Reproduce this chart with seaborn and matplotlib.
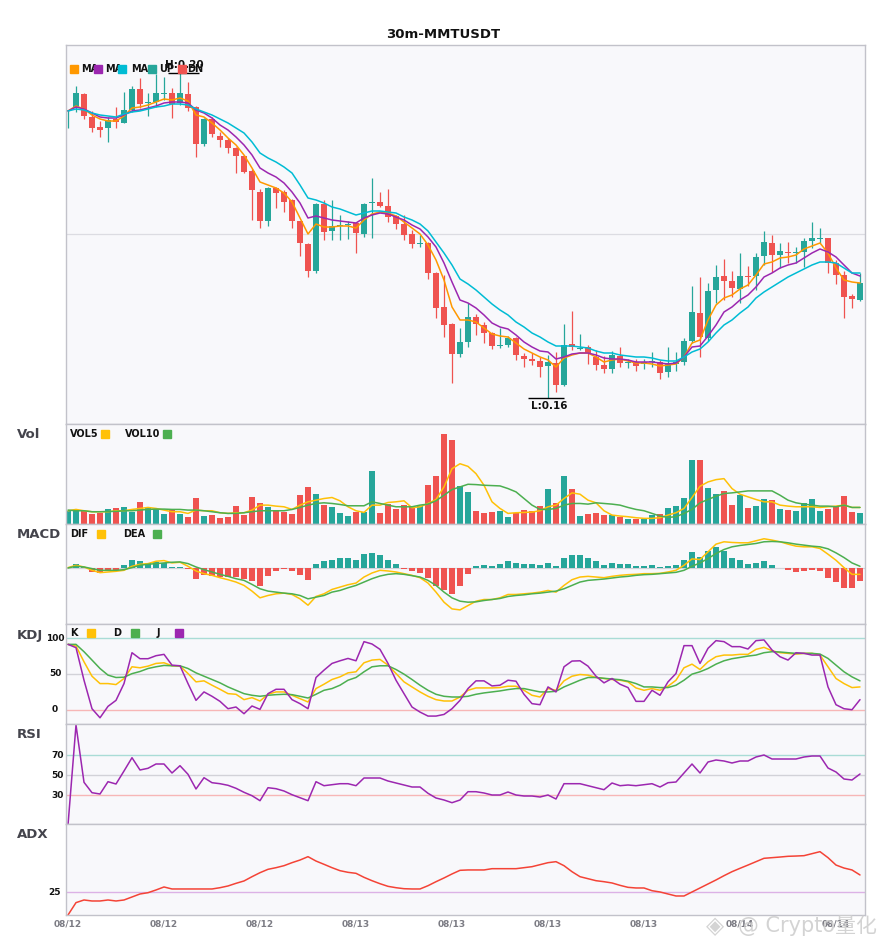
import numpy as np
import matplotlib
matplotlib.use("Agg")
import matplotlib.pyplot as plt
import matplotlib.transforms as mtransforms
from matplotlib.patches import Rectangle
import seaborn as sns

# 30m MMTUSDT candles, prices in units of 0.0001
PRICE_UNIT = 1e-4
opens = np.array([
    1914, 1918, 1931, 1908, 1898, 1897, 1906, 1902, 1915, 1936,
    1922, 1923, 1931, 1932, 1922, 1931, 1918, 1881, 1906, 1889,
    1885, 1877, 1869, 1854, 1833, 1804, 1837, 1833, 1825, 1804,
    1781, 1754, 1821, 1794, 1799, 1800, 1802, 1791, 1822, 1823,
    1819, 1809, 1801, 1791, 1781, 1782, 1752, 1718, 1701, 1671,
    1683, 1708, 1700, 1692, 1679, 1680, 1687, 1669, 1666, 1664,
    1659, 1662, 1640, 1681, 1676, 1678, 1668, 1660, 1656, 1669,
    1662, 1663, 1661, 1663, 1663, 1653, 1661, 1663, 1684, 1712,
    1687, 1735, 1749, 1744, 1736, 1749, 1749, 1769, 1782, 1770,
    1773, 1772, 1773, 1784, 1786, 1787, 1762, 1750, 1729, 1725])
closes = np.array([
    1915, 1932, 1909, 1897, 1895, 1905, 1903, 1915, 1936, 1921,
    1923, 1932, 1932, 1921, 1932, 1917, 1881, 1906, 1891, 1885,
    1877, 1869, 1853, 1835, 1804, 1837, 1832, 1823, 1804, 1782,
    1754, 1821, 1793, 1799, 1800, 1801, 1792, 1821, 1823, 1819,
    1808, 1801, 1790, 1781, 1782, 1752, 1717, 1700, 1671, 1683,
    1708, 1701, 1692, 1679, 1680, 1687, 1670, 1666, 1664, 1658,
    1663, 1640, 1680, 1678, 1677, 1672, 1660, 1656, 1670, 1662,
    1663, 1659, 1663, 1664, 1652, 1662, 1663, 1684, 1713, 1688,
    1734, 1748, 1744, 1737, 1749, 1748, 1768, 1783, 1770, 1774,
    1772, 1773, 1784, 1787, 1787, 1762, 1750, 1728, 1726, 1742])
highs = np.array([
    1915, 1939, 1932, 1914, 1904, 1908, 1918, 1933, 1939, 1947,
    1932, 1951, 1948, 1937, 1952, 1943, 1919, 1907, 1908, 1893,
    1887, 1878, 1870, 1856, 1836, 1838, 1838, 1835, 1826, 1804,
    1782, 1822, 1825, 1825, 1810, 1804, 1803, 1822, 1847, 1833,
    1836, 1810, 1810, 1795, 1790, 1783, 1753, 1750, 1702, 1697,
    1722, 1711, 1703, 1693, 1697, 1689, 1688, 1672, 1672, 1668,
    1670, 1673, 1701, 1714, 1691, 1680, 1675, 1669, 1674, 1678,
    1666, 1666, 1666, 1673, 1665, 1678, 1673, 1687, 1739, 1748,
    1742, 1760, 1766, 1754, 1772, 1759, 1772, 1794, 1790, 1782,
    1783, 1778, 1787, 1803, 1797, 1787, 1765, 1754, 1731, 1752])
lows = np.array([
    1897, 1913, 1906, 1893, 1888, 1883, 1897, 1902, 1913, 1917,
    1909, 1918, 1925, 1907, 1920, 1914, 1868, 1879, 1888, 1878,
    1872, 1852, 1852, 1805, 1797, 1799, 1817, 1813, 1797, 1769,
    1748, 1752, 1785, 1785, 1785, 1786, 1772, 1788, 1787, 1818,
    1803, 1796, 1785, 1777, 1778, 1746, 1707, 1688, 1642, 1668,
    1678, 1690, 1682, 1676, 1677, 1678, 1665, 1658, 1660, 1648,
    1627, 1633, 1639, 1675, 1675, 1661, 1655, 1652, 1652, 1658,
    1657, 1654, 1656, 1658, 1646, 1648, 1654, 1660, 1682, 1668,
    1684, 1722, 1725, 1728, 1722, 1739, 1735, 1760, 1753, 1757,
    1762, 1762, 1758, 1777, 1782, 1752, 1741, 1707, 1717, 1724])

ma5 = np.array([
    1914, 1919, 1916, 1910, 1906, 1904, 1904, 1909, 1917, 1918,
    1920, 1923, 1926, 1925, 1927, 1924, 1910, 1908, 1902, 1895,
    1887, 1880, 1870, 1857, 1843, 1840, 1837, 1832, 1823, 1807,
    1791, 1801, 1798, 1798, 1799, 1799, 1797, 1805, 1811, 1813,
    1812, 1809, 1803, 1797, 1791, 1780, 1765, 1745, 1718, 1705,
    1705, 1703, 1697, 1691, 1689, 1688, 1682, 1676, 1672, 1668,
    1665, 1658, 1667, 1670, 1672, 1672, 1668, 1663, 1665, 1666,
    1664, 1662, 1662, 1661, 1659, 1660, 1661, 1668, 1682, 1685,
    1705, 1720, 1727, 1730, 1736, 1740, 1750, 1761, 1763, 1767,
    1768, 1770, 1776, 1779, 1782, 1772, 1757, 1745, 1743, 1742])
ma10 = np.array([
    1914, 1918, 1916, 1912, 1908, 1907, 1907, 1910, 1914, 1915,
    1917, 1919, 1922, 1923, 1923, 1922, 1915, 1912, 1907, 1900,
    1895, 1888, 1880, 1870, 1857, 1852, 1848, 1842, 1833, 1822,
    1807, 1809, 1807, 1805, 1804, 1803, 1802, 1807, 1810, 1812,
    1811, 1808, 1805, 1800, 1796, 1788, 1778, 1762, 1743, 1725,
    1722, 1717, 1710, 1702, 1698, 1696, 1690, 1683, 1678, 1674,
    1673, 1666, 1668, 1671, 1672, 1672, 1670, 1667, 1666, 1666,
    1665, 1663, 1663, 1663, 1662, 1661, 1662, 1668, 1678, 1679,
    1689, 1700, 1713, 1718, 1725, 1730, 1738, 1748, 1752, 1757,
    1760, 1762, 1767, 1772, 1776, 1773, 1768, 1760, 1752, 1749])
ma20 = np.array([
    1914, 1916, 1915, 1912, 1910, 1909, 1908, 1911, 1913, 1914,
    1916, 1918, 1919, 1921, 1921, 1920, 1916, 1913, 1910, 1906,
    1902, 1897, 1892, 1883, 1872, 1867, 1863, 1858, 1852, 1840,
    1827, 1825, 1822, 1818, 1816, 1813, 1810, 1812, 1814, 1814,
    1813, 1812, 1808, 1805, 1801, 1794, 1783, 1772, 1760, 1746,
    1741, 1735, 1728, 1721, 1715, 1710, 1703, 1698, 1692, 1688,
    1683, 1679, 1679, 1679, 1678, 1677, 1674, 1672, 1672, 1670,
    1669, 1668, 1668, 1667, 1665, 1664, 1664, 1668, 1673, 1676,
    1683, 1692, 1700, 1705, 1712, 1718, 1727, 1733, 1738, 1743,
    1748, 1752, 1756, 1760, 1763, 1763, 1762, 1757, 1752, 1752])

# volume (no axis shown, relative units)
vol = np.array([
    40, 40, 40, 30, 32, 44, 47, 50, 35, 65,
    47, 44, 29, 42, 29, 20, 80, 23, 26, 17,
    20, 53, 27, 83, 64, 52, 39, 35, 30, 89,
    113, 92, 57, 50, 32, 23, 37, 37, 161, 32,
    59, 44, 56, 52, 54, 117, 144, 272, 254, 116,
    98, 38, 32, 36, 39, 20, 34, 41, 38, 53,
    107, 62, 146, 107, 23, 30, 34, 26, 26, 20,
    14, 14, 14, 26, 29, 47, 53, 80, 194, 194,
    110, 92, 101, 56, 89, 47, 53, 77, 71, 44,
    41, 38, 62, 77, 38, 44, 53, 86, 35, 32])
vol5 = np.array([
    40, 44, 40, 37, 37, 37, 40, 40, 44, 47,
    50, 47, 42, 37, 37, 32, 42, 40, 40, 34,
    32, 34, 34, 42, 57, 57, 54, 52, 44, 57,
    67, 72, 77, 80, 70, 52, 40, 35, 57, 57,
    65, 67, 70, 49, 52, 62, 74, 112, 167, 182,
    174, 152, 117, 67, 47, 32, 34, 35, 36, 40,
    52, 57, 77, 94, 90, 72, 64, 40, 27, 24,
    22, 19, 17, 17, 19, 27, 34, 47, 80, 114,
    127, 134, 137, 107, 90, 82, 74, 67, 67, 57,
    54, 52, 52, 52, 50, 52, 54, 57, 50, 50])
vol10 = np.array([
    42, 40, 40, 37, 37, 38, 38, 40, 40, 42,
    44, 45, 45, 44, 44, 42, 42, 40, 37, 34,
    32, 32, 34, 37, 40, 40, 40, 40, 44, 50,
    57, 62, 64, 62, 59, 55, 55, 55, 67, 62,
    57, 52, 52, 52, 57, 60, 70, 87, 104, 112,
    120, 119, 117, 116, 115, 107, 97, 77, 57, 44,
    44, 47, 57, 62, 62, 60, 64, 62, 60, 57,
    50, 44, 40, 32, 24, 20, 22, 32, 44, 64,
    74, 84, 92, 94, 97, 100, 100, 100, 100, 87,
    72, 64, 60, 57, 54, 54, 52, 57, 50, 50])

# MACD in units of 1e-5
macd_hist = np.array([
    0, 12, 2, -13, -16, -8, -6, 7, 24, 19,
    15, 16, 14, 2, 2, -5, -35, -23, -26, -28,
    -28, -28, -33, -41, -56, -26, -11, -5, -11, -23,
    -38, 12, 19, 24, 30, 30, 24, 42, 45, 38,
    24, 12, -3, -11, -15, -30, -56, -66, -78, -56,
    -18, 4, 9, 6, 12, 21, 15, 12, 12, 9,
    15, 4, 30, 39, 39, 30, 19, 7, 15, 12,
    12, 6, 6, 9, 3, 6, 9, 24, 48, 33,
    51, 60, 51, 30, 24, 12, 15, 21, 9, 0,
    -8, -14, -11, -8, -11, -32, -44, -62, -62, -41])
dif = np.array([
    0, 7, 2, -8, -15, -13, -11, -8, 4, 10,
    12, 19, 21, 14, 16, 4, -10, -18, -23, -30,
    -36, -43, -53, -70, -90, -83, -78, -76, -80, -93,
    -112, -86, -78, -65, -58, -51, -46, -28, -16, -8,
    -10, -13, -18, -23, -30, -46, -73, -103, -123, -126,
    -113, -100, -95, -95, -90, -80, -80, -78, -76, -73,
    -68, -73, -53, -36, -28, -26, -28, -30, -26, -23,
    -21, -20, -18, -18, -17, -13, -8, 7, 26, 24,
    47, 70, 77, 75, 74, 74, 80, 86, 82, 77,
    70, 64, 62, 62, 57, 40, 22, 0, -20, -20])
dea = np.array([
    -1, 4, 2, -3, -8, -8, -8, -6, 0, 7,
    10, 12, 14, 16, 17, 12, 2, -6, -13, -20,
    -26, -33, -38, -50, -63, -70, -73, -76, -78, -83,
    -93, -88, -83, -73, -68, -60, -53, -43, -33, -25,
    -20, -18, -20, -24, -28, -38, -53, -73, -90, -100,
    -103, -102, -98, -95, -92, -86, -83, -81, -78, -76,
    -73, -70, -63, -53, -43, -38, -36, -34, -31, -28,
    -26, -23, -21, -20, -18, -16, -14, -8, 4, 14,
    27, 42, 54, 62, 66, 69, 72, 77, 78, 77,
    74, 70, 67, 64, 62, 56, 44, 30, 14, 4])

k_vals = np.array([
    91.5, 89.2, 67.1, 46.9, 36.6, 36.6, 35.2, 43.7, 60.1, 58.7,
    61, 64.8, 65.7, 61.5, 61, 50.7, 39, 40.4, 34.3, 28.6,
    22.5, 21.6, 14.1, 16.9, 12.2, 21.6, 24.9, 24.9, 20.2, 15.5,
    10.8, 29.6, 35.7, 42.3, 46, 51.6, 53.1, 65.7, 69.5, 70.4,
    62.4, 50.7, 39, 31.9, 24.9, 18.8, 14.1, 12.2, 12.2, 17.8,
    27.2, 30.5, 30.5, 30.5, 31, 32.9, 32.9, 27.2, 20.2, 17.8,
    29.6, 27.2, 40.4, 46.9, 49.3, 48.4, 45.1, 43.7, 42.3, 41.3,
    39, 30.5, 27.2, 29.6, 27.2, 32.9, 41.3, 58.7, 63.8, 56.3,
    67.1, 74.2, 76.5, 76.5, 77.5, 77.5, 84.5, 87.3, 82.6, 79.8,
    78.9, 77.9, 78.9, 78.9, 76.5, 60.1, 43.7, 36.6, 31, 31.9])
d_vals = np.array([
    91.5, 91.5, 81.2, 69.5, 57.7, 48.4, 45.1, 45.5, 50.5, 53.5,
    57.7, 60.1, 62, 61.5, 61.5, 57.7, 51.6, 46.9, 42.3, 37.6,
    31.9, 27.2, 22.5, 20.2, 18.8, 20.2, 21.1, 21.6, 21.1, 18.8,
    16.4, 21.6, 27.2, 29.6, 34.3, 41.3, 45.1, 53.1, 60.1, 61.5,
    61.5, 56.3, 49.8, 42.3, 34.3, 27.2, 21.6, 18.8, 17.8, 17.8,
    18.8, 21.6, 23.5, 24.9, 26.3, 28.2, 29.6, 29.6, 27.2, 24.9,
    24.9, 25.8, 31.9, 36.6, 41.3, 45.1, 45.1, 44, 43, 42,
    39.9, 36.6, 31.9, 31.9, 31, 31, 34.3, 41.3, 49.8, 53.1,
    57.7, 63.8, 68.5, 71.4, 73.2, 75.1, 76.5, 79.8, 81.2, 80.8,
    79.8, 78.9, 78.9, 78.9, 77.9, 71.8, 62.4, 53.1, 46, 40.4])
j_vals = np.array([
    91.5, 86.9, 41.3, 1.4, -11.3, 4.7, 13.1, 36.6, 79.8, 71.4,
    71.4, 75.6, 77.5, 62.4, 61.5, 36.6, 13.1, 24.9, 18.8, 11.7,
    1.4, 3.8, -5.6, 5.2, 0.5, 22.5, 28.6, 28.6, 14.1, 8.5,
    1.4, 45.1, 55.4, 64.8, 68.5, 71.8, 68.5, 95.3, 92, 84.5,
    64.8, 41.3, 22.5, 3.8, -3.3, -8.9, -8.9, -6.6, 1.4, 13.1,
    29.6, 40.4, 40.4, 33.3, 34.3, 41.3, 39.9, 21.6, 8.5, 7,
    31.9, 24.9, 60.1, 68.1, 68.5, 61, 46.9, 37.6, 43.7, 35.7,
    31, 11.7, 11.7, 27.2, 20.2, 39, 50.7, 89.7, 89.7, 64.8,
    85.9, 96.7, 95.3, 88.3, 88.3, 85, 96.7, 97.7, 83.6, 74.2,
    69.5, 79.8, 78.9, 76.5, 76.5, 31.9, 7, 1.4, 0, 14.1])

rsi = np.array([
    0, 100, 42.7, 32.3, 31, 43.3, 41, 54, 67.3, 55,
    56.7, 61, 61, 52, 59.3, 50.7, 36, 47.3, 42.3, 41.3,
    39.7, 36.7, 32.7, 29.3, 24.3, 37.3, 36.3, 34, 30.3, 27.3,
    24.3, 43.3, 39.3, 40.3, 41.3, 41.3, 39.3, 47, 47, 47,
    44, 42, 40, 38, 38, 31.7, 27, 25, 22.3, 25,
    33.3, 33.3, 32, 30, 30, 33, 30, 29, 29, 28,
    30, 26, 41.3, 41.3, 41.3, 39.3, 37.3, 35.3, 42, 39.3,
    40, 39.3, 40.3, 41.3, 38, 42.3, 43, 52, 61, 52,
    63, 65, 64, 62, 64, 64, 68, 70, 66, 66,
    66, 66, 68, 69, 69, 57, 53, 46, 45, 51])
adx = np.array([
    0, 13.6, 16.5, 15.4, 15.4, 16.5, 15.4, 16.5, 19.8, 23.1,
    24.5, 27.5, 30.8, 28.6, 28.6, 28.6, 28.6, 28.6, 28.6, 30,
    31.9, 34.8, 37.4, 42.1, 46.5, 50.2, 52, 54.2, 57.5, 60.4,
    64.1, 59.3, 55.7, 52, 48.7, 46.9, 45.8, 41.4, 37.7, 34.4,
    31.5, 30, 28.9, 28.6, 28.6, 32.2, 36.6, 40.7, 45.1, 49.1,
    49.5, 49.5, 49.5, 50.9, 50.9, 50.9, 50.9, 52, 53.1, 55.3,
    57.5, 58.6, 54.2, 47.6, 42.1, 39.9, 37.7, 36.6, 35.2, 32.6,
    30.4, 29.7, 29.7, 26.7, 25.3, 23.1, 20.9, 20.9, 25.3, 29.7,
    34.1, 38.5, 43.2, 47.6, 51.3, 54.9, 58.6, 62.3, 63, 63.7,
    64.5, 64.8, 65.2, 67.4, 69.6, 63, 54.9, 51.6, 49.5, 44])

tick_labels = ['08/12', '08/12', '08/12', '08/13', '08/13', '08/13', '08/13', '08/14', '08/14']
kdj_levels = [100, 50, 0]
rsi_levels = [70, 50, 30]
adx_levels = [25]

sns.set_style("white")
plt.rcParams['font.family'] = ['DejaVu Sans', 'Noto Sans CJK SC']

W, H = 885, 950
fig = plt.figure(figsize=(W / 100, H / 100), dpi=100)

UP, DN = '#26a69a', '#ef5350'
BG = '#f8f8fb'
EDGE = '#c2c2ca'
YEL, GRN, PUR = '#ffc107', '#4caf50', '#9c27b0'
LVL_TOP, LVL_MID, LVL_LOW = '#a9dcd6', '#d2d2d8', '#f7b6b6'
LABEL_C = '#44444c'

n = len(closes)
x = np.arange(n)
cols = np.where(closes >= opens, UP, DN)


def fx(px):
    return px / W


def fy(py):
    return 1 - py / H


def panel(top, bottom):
    ax = fig.add_axes([fx(66), fy(bottom), (865 - 66) / W, (bottom - top) / H])
    ax.set_facecolor(BG)
    ax.set_xlim(-0.25, n - 0.375)
    for s in ax.spines.values():
        s.set_color(EDGE)
        s.set_linewidth(1)
    ax.set_xticks([])
    ax.set_yticks([])
    return ax


def line(ax, y, color, lw=1.1):
    sns.lineplot(x=x, y=y, ax=ax, color=color, linewidth=lw)
    ax.set_xlabel('')
    ax.set_ylabel('')


def level_labels(ax, levels, xpos):
    tr = mtransforms.blended_transform_factory(ax.transAxes, ax.transData)
    for lv in levels:
        ax.text(xpos, lv, str(lv), transform=tr, ha='center', va='center',
                fontsize=6.5, fontweight='bold', color='#111111')


def legend(items, py):
    for kind, px, val in items:
        if kind == 't':
            fig.text(fx(px), fy(py), val, fontsize=7, fontweight='bold',
                     color='#111111', va='center', ha='left')
        else:
            fig.patches.append(Rectangle((fx(px), fy(py + 4)), 8 / W, 8 / H,
                                         transform=fig.transFigure, color=val, zorder=5))


# ---- price ----
ax_p = panel(45, 424)
ax_p.axhline(1790.5, color='#dcdce2', lw=0.9, zorder=0)
ax_p.vlines(x, lows, highs, colors=cols, linewidth=0.9, zorder=1)
body_lo = np.minimum(opens, closes)
body_h = np.maximum(np.abs(closes - opens), 1)
ax_p.bar(x, body_h, bottom=body_lo, width=0.66, color=cols, linewidth=0, zorder=1)
line(ax_p, ma5, '#ff9800')
line(ax_p, ma10, PUR)
line(ax_p, ma20, '#00bcd4')
ax_p.set_ylim(1601, 1980)

hi_i, lo_i = int(np.argmax(highs)), int(np.argmin(lows))
ax_p.hlines(highs[hi_i], hi_i - 1.5, hi_i + 2.4, color='black', lw=1, zorder=4)
ax_p.text(hi_i + 0.5, highs[hi_i] + 3, f"H:{highs[hi_i] * PRICE_UNIT:.2f}", ha='center',
          va='bottom', fontsize=7.5, fontweight='bold', color='#111111', zorder=6)
ax_p.hlines(lows[lo_i], lo_i - 2.5, lo_i + 2, color='black', lw=1, zorder=4)
ax_p.text(lo_i + 0.1, lows[lo_i] - 3, f"L:{lows[lo_i] * PRICE_UNIT:.2f}", ha='center',
          va='top', fontsize=7.5, fontweight='bold', color='#111111', zorder=6)

legend([('s', 70, '#ff9800'), ('t', 81, 'MA'), ('s', 94, PUR), ('t', 105, 'MA'),
        ('s', 118, '#00bcd4'), ('t', 131, 'MA'), ('s', 148, UP), ('t', 159, 'UP'),
        ('s', 178, DN), ('t', 187, 'DN')], 69)

# ---- volume ----
ax_v = panel(424, 524)
ax_v.bar(x, vol, width=0.66, color=cols, linewidth=0)
line(ax_v, vol5, YEL)
line(ax_v, vol10, GRN)
ax_v.set_ylim(0, 302)
legend([('t', 70, 'VOL5'), ('s', 101, YEL), ('t', 125, 'VOL10'), ('s', 163, GRN)], 434)

# ---- MACD ----
ax_m = panel(524, 624)
ax_m.axhline(0, color='#d2d2d8', lw=0.9, zorder=0)
ax_m.bar(x, macd_hist, width=0.66, color=np.where(macd_hist >= 0, UP, DN), linewidth=0)
line(ax_m, dif, YEL)
line(ax_m, dea, GRN)
ax_m.set_ylim(-168, 130)
legend([('t', 70, 'DIF'), ('s', 97, YEL), ('t', 123, 'DEA'), ('s', 153, GRN)], 534)

# ---- KDJ ----
ax_k = panel(624, 724)
for lv, c in zip(kdj_levels, [LVL_TOP, LVL_MID, LVL_LOW]):
    ax_k.axhline(lv, color=c, lw=1, zorder=0)
line(ax_k, k_vals, YEL)
line(ax_k, d_vals, GRN)
line(ax_k, j_vals, PUR)
ax_k.set_ylim(-20, 120)
level_labels(ax_k, kdj_levels, -0.0138)
legend([('t', 70, 'K'), ('s', 87, YEL), ('t', 113, 'D'), ('s', 131, GRN),
        ('t', 157, 'J'), ('s', 175, PUR)], 633)

# ---- RSI ----
ax_r = panel(724, 824)
for lv, c in zip(rsi_levels, [LVL_TOP, LVL_MID, LVL_LOW]):
    ax_r.axhline(lv, color=c, lw=1, zorder=0)
line(ax_r, rsi, PUR)
ax_r.set_ylim(1, 101)
level_labels(ax_r, rsi_levels, -0.011)

# ---- ADX ----
ax_a = panel(824, 915)
for lv in adx_levels:
    ax_a.axhline(lv, color='#dcb2e6', lw=1, zorder=0)
line(ax_a, adx, '#f44336')
ax_a.set_ylim(0, 100)
level_labels(ax_a, adx_levels, -0.0138)
ax_a.set_xticks(x[::12])
ax_a.set_xticklabels(tick_labels, fontsize=6.5, fontweight='bold', color='#7c7c84')
ax_a.tick_params(axis='x', length=0, pad=3)

# panel names + title
for name, py in [('Vol', 435), ('MACD', 535), ('KDJ', 636), ('RSI', 735), ('ADX', 835)]:
    fig.text(fx(17), fy(py), name, fontsize=9.5, fontweight='bold', color=LABEL_C,
             ha='left', va='center')
fig.text(fx(443), fy(34), '30m-MMTUSDT', fontsize=9.5, fontweight='bold',
         color='#111111', ha='center', va='center')

# watermark
fig.text(fx(706), fy(926), '◈', fontsize=17, color='#d4d4d4', ha='left', va='center')
fig.text(fx(738), fy(926), '@ Crypto量化', fontsize=15, color='#cfcfcf', ha='left',
         va='center', alpha=0.9)

fig.savefig('out.png', dpi=100, facecolor='white')
